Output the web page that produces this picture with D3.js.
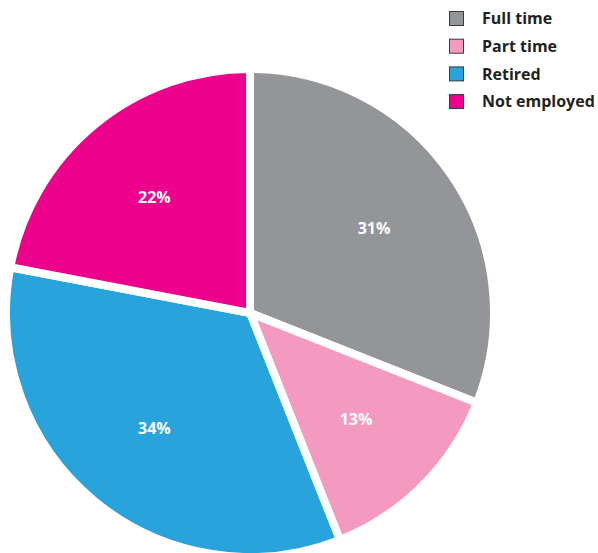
<!DOCTYPE html>
<html>
<head>
<meta charset="utf-8">
<script src="https://cdn.jsdelivr.net/npm/d3@7"></script>
<style>
  html, body { margin: 0; padding: 0; background: #fff; }
  svg { display: block; }
</style>
</head>
<body>
<svg id="chart" width="598" height="553"></svg>
<script>
// Employment status shares
const categories = ["Full time", "Part time", "Retired", "Not employed"];
const shares = [31, 13, 34, 22];
const colors = ["#939598", "#f49ac1", "#29a3dc", "#ec008c"];

const width = 598, height = 553;
const cx = 250, cy = 313, radius = 244;

const svg = d3.select("#chart");

const pie = d3.pie().sort(null).value(d => d.value);
const data = categories.map((c, i) => ({ name: c, value: shares[i], color: colors[i] }));
const arcs = pie(data);

const arc = d3.arc().innerRadius(0).outerRadius(radius);
const labelArc = d3.arc().innerRadius(150).outerRadius(150);

const g = svg.append("g").attr("transform", `translate(${cx},${cy})`);

g.selectAll("path.slice")
  .data(arcs)
  .join("path")
  .attr("class", "slice")
  .attr("d", arc)
  .attr("fill", d => d.data.color)
  .attr("stroke", "#fff")
  .attr("stroke-width", 8)
  .attr("stroke-linejoin", "miter");

g.selectAll("text.pct")
  .data(arcs)
  .join("text")
  .attr("class", "pct")
  .attr("transform", d => `translate(${labelArc.centroid(d)})`)
  .attr("text-anchor", "middle")
  .attr("dy", "0.35em")
  .attr("fill", "#fff")
  .attr("font-family", "'Open Sans', sans-serif")
  .attr("font-weight", 700)
  .attr("font-size", 16)
  .text(d => d.data.value + "%");

// Legend
const legend = svg.append("g").attr("transform", "translate(449,11)");
const rowH = 27.7;
const rows = legend.selectAll("g.row")
  .data(data)
  .join("g")
  .attr("class", "row")
  .attr("transform", (d, i) => `translate(0,${i * rowH})`);

rows.append("rect")
  .attr("x", 0.5).attr("y", 0.5)
  .attr("width", 14).attr("height", 14)
  .attr("fill", d => d.color)
  .attr("stroke", "#3a3a3c")
  .attr("stroke-width", 1);

rows.append("text")
  .attr("x", 33)
  .attr("y", 7.5)
  .attr("dy", "0.35em")
  .attr("fill", "#231f20")
  .attr("font-family", "'Open Sans', sans-serif")
  .attr("font-weight", 700)
  .attr("font-size", 16)
  .text(d => d.name);
</script>
</body>
</html>
